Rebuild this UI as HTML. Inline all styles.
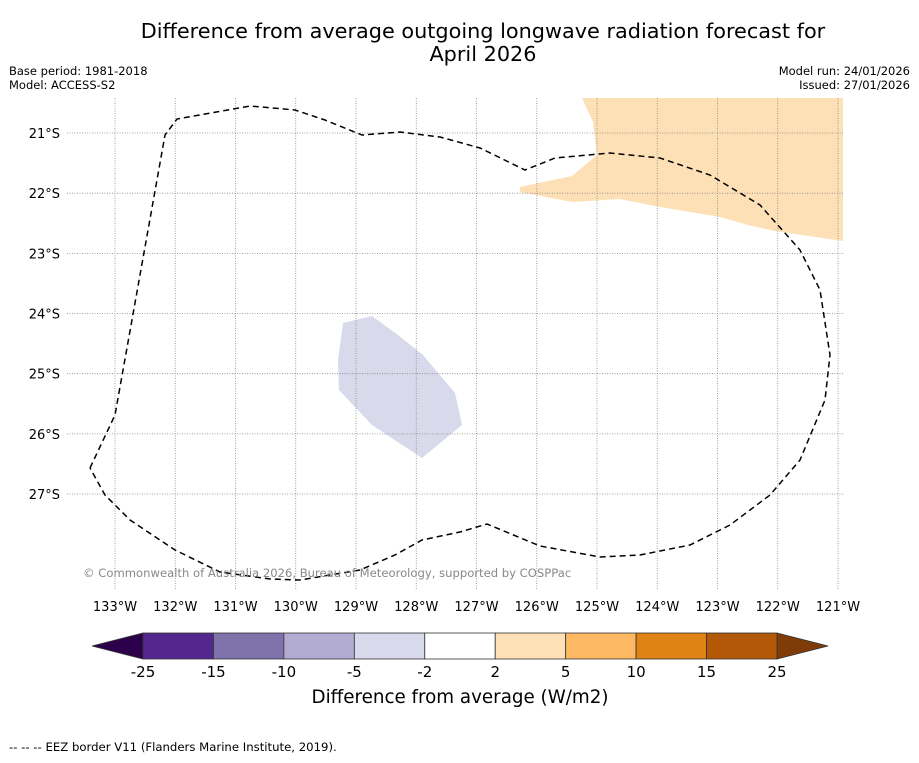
<!DOCTYPE html>
<html><head><meta charset="utf-8"><style>
body{margin:0;background:#fff;font-family:"Liberation Sans","DejaVu Sans",sans-serif}
svg text{font-family:"DejaVu Sans","Liberation Sans",sans-serif}
</style></head><body>
<svg id="s" width="919" height="758" viewBox="0 0 919 758" xmlns="http://www.w3.org/2000/svg">
<rect width="919" height="758" fill="#fff"/>
<text x="483" y="38" font-size="20.8" text-anchor="middle">Difference from average outgoing longwave radiation forecast for</text>
<text x="483" y="61" font-size="20.8" text-anchor="middle">April 2026</text>
<text x="9" y="75" font-size="11.5">Base period: 1981-2018</text>
<text x="9" y="89" font-size="11.5">Model: ACCESS-S2</text>
<text x="910" y="75" font-size="11.5" text-anchor="end">Model run: 24/01/2026</text>
<text x="910" y="89" font-size="11.5" text-anchor="end">Issued: 27/01/2026</text>
<g id="map">
<polygon fill="#fee0b6" points="582,98 593,122 597,155 572,176 520,187 520,192 572,202 620,199 660,207 720,217 748,225 775,231 843,241 843,98"/>
<polygon fill="#d8daeb" points="343,323 372,316 398,335 423,355 455,393 462,425 422,458 372,425 339,390 338,360"/>
<g id="grid" stroke="#888" stroke-width="0.8" stroke-dasharray="1,1.5"></g>
<polyline fill="none" stroke="#000" stroke-width="1.5" stroke-dasharray="6,4" points="90,468 115,415 165,135 177,119 250,106 295,110 325,120 362,135 400,132 440,137 480,148 525,170 555,158 610,153 660,158 710,175 760,205 800,250 820,290 830,355 825,400 800,460 770,495 730,525 690,545 640,555 600,557 540,546 487,524 460,532 422,540 395,555 360,570 300,580 270,579 220,572 175,550 130,520 105,495 90,468"/>
<text x="83" y="577" font-size="11.6" fill="#888">© Commonwealth of Australia 2026, Bureau of Meteorology, supported by COSPPac</text>
</g>
<g id="labels"></g>
<g id="cbar"></g>
<text x="460" y="703" font-size="18.3" text-anchor="middle">Difference from average (W/m2)</text>
<text x="9" y="751" font-size="11.7">--  --  -- EEZ border V11 (Flanders Marine Institute, 2019).</text>
</svg>
<script>
const lonTicks=[133,132,131,130,129,128,127,126,125,124,123,122,121];
const latTicks=[21,22,23,24,25,26,27];
const cbBounds=[-25,-15,-10,-5,-2,2,5,10,15,25];
const cbColors=["#54278f","#8073ac","#b2abd2","#d8daeb","#ffffff","#fee0b6","#fdb863","#e08214","#b35806"];
const NS="http://www.w3.org/2000/svg";
const xOf=l=>115+(133-l)*60.25, yOf=l=>133+(l-21)*60.17;
function mk(t,a,p){const e=document.createElementNS(NS,t);for(const k in a)e.setAttribute(k,a[k]);p.appendChild(e);return e;}
const g=document.getElementById('grid'),lb=document.getElementById('labels');
lonTicks.forEach(l=>{const x=xOf(l);
 const ln=mk('line',{x1:x,x2:x,y1:98,y2:590},g);
 
 
 const t=mk('text',{x:x,y:611,'font-size':13,'text-anchor':'middle'},lb);t.textContent=l+'°W';
 
 });
latTicks.forEach(l=>{const y=yOf(l);
 const ln=mk('line',{x1:67,x2:843,y1:y,y2:y},g);
 
 
 const t=mk('text',{x:60,y:y+5,'font-size':13,'text-anchor':'end'},lb);t.textContent=l+'°S';
 
 });
const cb=document.getElementById('cbar');const x0=143,x1=777,y0=633,y1=659,n=cbColors.length,w=(x1-x0)/n;
const lt=mk('polygon',{points:`${x0},${y0} 92,${(y0+y1)/2} ${x0},${y1}`,fill:'#2d004b',stroke:'#333','stroke-width':0.8},cb);


const rt=mk('polygon',{points:`${x1},${y0} 828,${(y0+y1)/2} ${x1},${y1}`,fill:'#7f3b08',stroke:'#333','stroke-width':0.8},cb);


cbColors.forEach((c,i)=>{const r=mk('rect',{x:x0+i*w,y:y0,width:w,height:y1-y0,fill:c,stroke:'#333','stroke-width':0.8},cb);
 
 });
cbBounds.forEach((v,i)=>{const t=mk('text',{x:x0+i*w,y:677,'font-size':15,'text-anchor':'middle'},cb);t.textContent=v;
 
 });
</script>
</body></html>
